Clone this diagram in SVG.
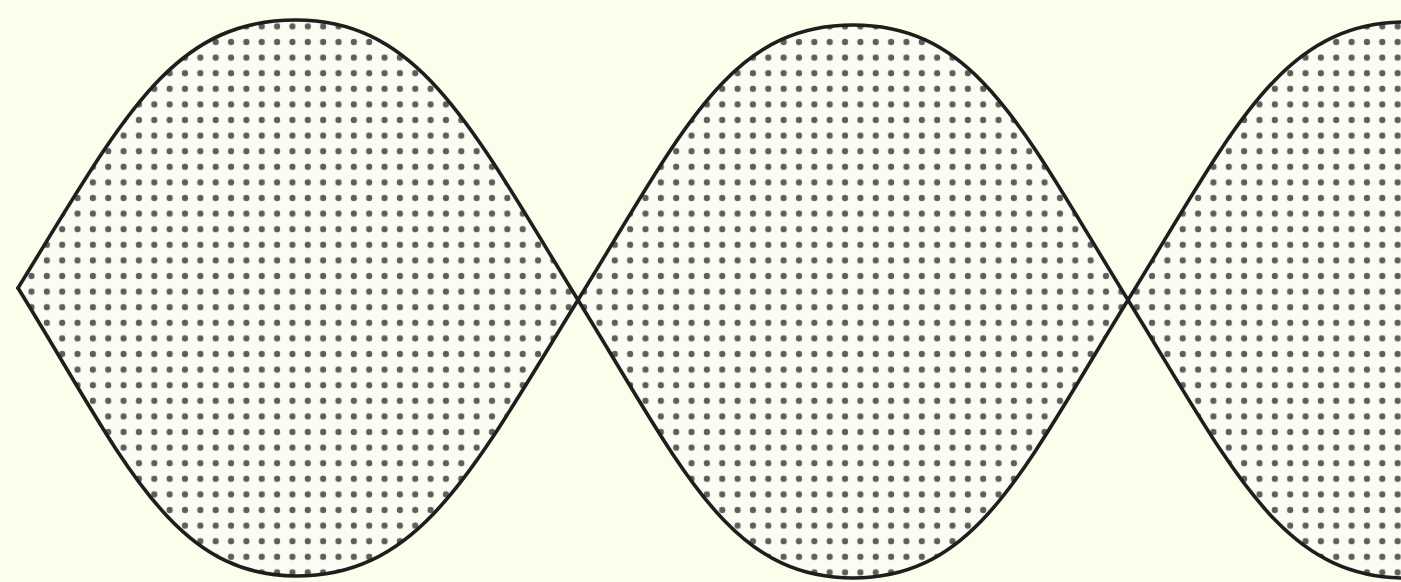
<svg xmlns="http://www.w3.org/2000/svg" width="1401" height="582" viewBox="0 0 1401 582">
  <style>
    .lens { fill: url(#dots); stroke: none; }
    .base { fill: #fbfcf4; stroke: none; }
    .wave { fill: none; stroke: #1e1e1e; stroke-width: 3.6; stroke-linejoin: round; stroke-linecap: round; }
  </style>
  <defs>
    <pattern id="dots" patternUnits="userSpaceOnUse" x="-6.875" y="3" width="15.35" height="15.6">
      <circle cx="7.675" cy="7.8" r="3.1" fill="#5e5f5a"/>
    </pattern>
  </defs>
  <rect x="0" y="0" width="1401" height="582" fill="#fdfdec"/>
  <g id="lens-1">
    <path class="base" d="M18,288 C123,118 171,20 296,20 C421,20 473,130 578,300 C473,470 421,576 296,576 C171,576 123,458 18,288 Z"/>
    <path class="lens" d="M18,288 C123,118 171,20 296,20 C421,20 473,130 578,300 C473,470 421,576 296,576 C171,576 123,458 18,288 Z"/>
  </g>
  <g id="lens-2">
    <path class="base" d="M578,300 C683,130 729,25 853,25 C977,25 1023,130 1128,300 C1023,470 977,578 853,578 C729,578 683,470 578,300 Z"/>
    <path class="lens" d="M578,300 C683,130 729,25 853,25 C977,25 1023,130 1128,300 C1023,470 977,578 853,578 C729,578 683,470 578,300 Z"/>
  </g>
  <g id="lens-3">
    <path class="base" d="M1128,300 C1233,130 1281,22 1406,22 L1406,578 C1281,578 1233,470 1128,300 Z"/>
    <path class="lens" d="M1128,300 C1233,130 1281,22 1406,22 L1406,578 C1281,578 1233,470 1128,300 Z"/>
  </g>
  <g id="outline">
    <path class="wave" d="M18,288 C123,118 171,20 296,20 C421,20 473,130 578,300 C683,470 729,578 853,578 C977,578 1023,470 1128,300 C1233,130 1281,22 1406,22"/>
    <path class="wave" d="M18,288 C123,458 171,576 296,576 C421,576 473,470 578,300 C683,130 729,25 853,25 C977,25 1023,130 1128,300 C1233,470 1281,578 1406,578"/>
  </g>
</svg>
